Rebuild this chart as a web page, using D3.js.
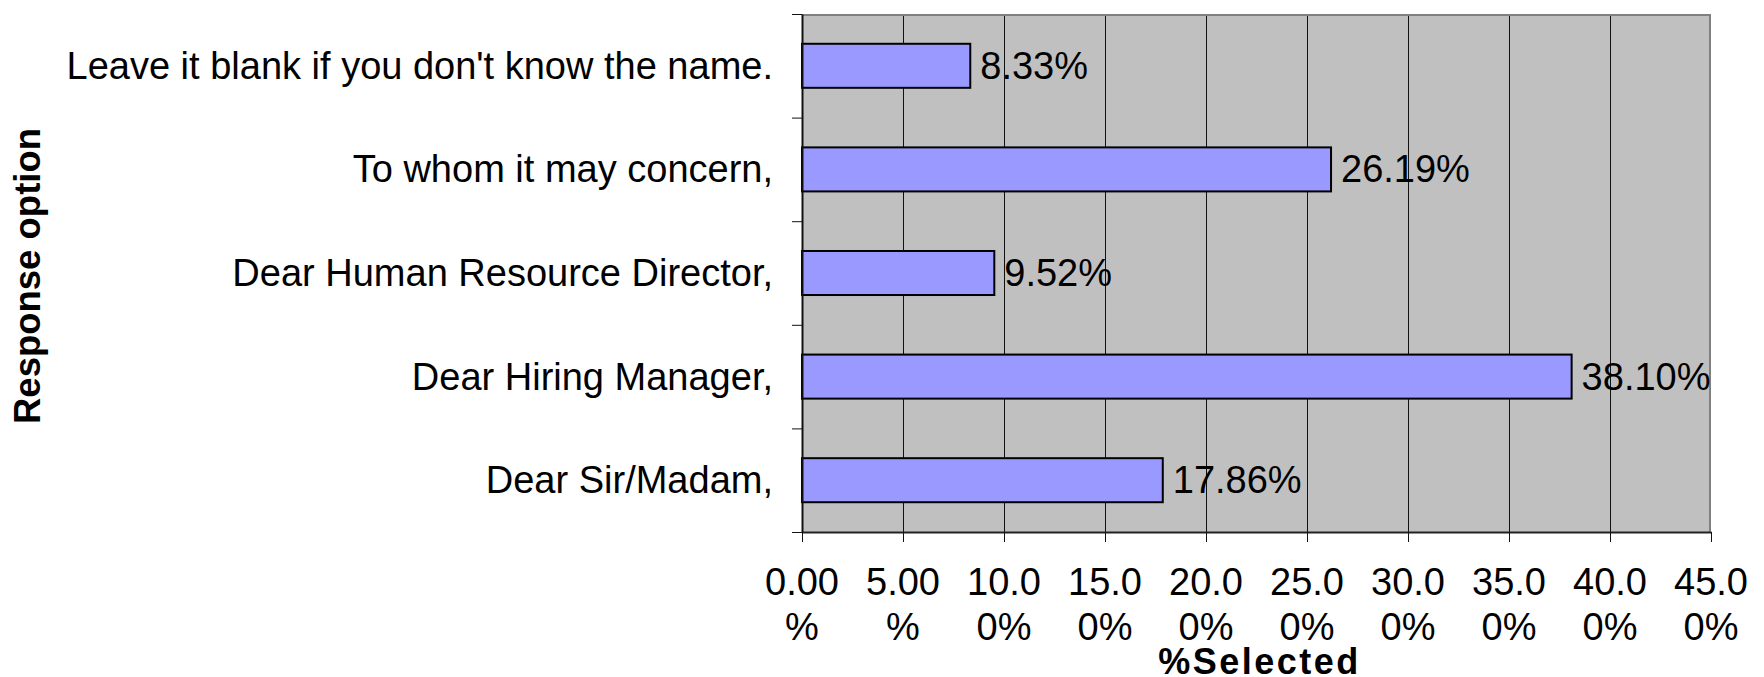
<!DOCTYPE html>
<html>
<head>
<meta charset="utf-8">
<script src="https://cdnjs.cloudflare.com/ajax/libs/d3/7.8.5/d3.min.js"></script>
<style>
  body { margin: 0; background: #fff; }
  svg { display: block; font-family: "Liberation Sans", Arial, sans-serif; }
</style>
</head>
<body>
<div id="chart"></div>
<script>
// response options, top to bottom
var categories = [
  "Leave it blank if you don't know the name.",
  "To whom it may concern,",
  "Dear Human Resource Director,",
  "Dear Hiring Manager,",
  "Dear Sir/Madam,"
];
var percentSelected = [8.33, 26.19, 9.52, 38.10, 17.86];
var tickValues = [0, 5, 10, 15, 20, 25, 30, 35, 40, 45];
// excel wraps the long tick labels onto two lines
var tickLabels = [
  ["0.00", "%"], ["5.00", "%"], ["10.0", "0%"], ["15.0", "0%"], ["20.0", "0%"],
  ["25.0", "0%"], ["30.0", "0%"], ["35.0", "0%"], ["40.0", "0%"], ["45.0", "0%"]
];

var W = 1764, H = 677;
// note: "top" is taken by window.top, so use plot* names
var plotLeft = 802, plotRight = 1711, plotTop = 14, plotBottom = 532;
var fontSize = 38;

var svg = d3.select("#chart").append("svg")
  .attr("width", W)
  .attr("height", H);

var x = d3.scaleLinear().domain([0, 45]).range([plotLeft, plotRight]);
var y = d3.scaleBand().domain(categories).range([plotTop, plotBottom])
  .paddingInner(0.575).paddingOuter(0.2875);

// plot background
svg.append("rect")
  .attr("x", plotLeft).attr("y", plotTop)
  .attr("width", plotRight - plotLeft).attr("height", plotBottom - plotTop)
  .attr("fill", "#c0c0c0");

// vertical gridlines
svg.append("g").selectAll("line")
  .data(tickValues.slice(1, -1))
  .enter().append("line")
  .attr("x1", function(d) { return Math.round(x(d)) + 0.5; })
  .attr("x2", function(d) { return Math.round(x(d)) + 0.5; })
  .attr("y1", plotTop).attr("y2", plotBottom)
  .attr("stroke", "#111").attr("stroke-width", 1);

// gray frame on top and right
svg.append("path")
  .attr("d", "M" + plotLeft + "," + (plotTop + 1) + "H" + (plotRight - 1) + "V" + plotBottom)
  .attr("fill", "none").attr("stroke", "#808080").attr("stroke-width", 2);

// bars
svg.append("g").selectAll("rect")
  .data(percentSelected)
  .enter().append("rect")
  .attr("x", x(0))
  .attr("y", function(d, i) { return y(categories[i]); })
  .attr("width", function(d) { return x(d) - x(0); })
  .attr("height", y.bandwidth())
  .attr("fill", "#9999ff")
  .attr("stroke", "#000")
  .attr("stroke-width", 2);

// value labels
svg.append("g").selectAll("text")
  .data(percentSelected)
  .enter().append("text")
  .attr("x", function(d) { return x(d) + 10; })
  .attr("y", function(d, i) { return y(categories[i]) + y.bandwidth() / 2 + 13; })
  .attr("font-size", fontSize)
  .attr("fill", "#000")
  .text(function(d) { return d.toFixed(2) + "%"; });

// x axis
var xAxis = d3.axisBottom(x)
  .tickValues(tickValues)
  .tickSize(10)
  .tickSizeOuter(0)
  .tickFormat("");
var gx = svg.append("g")
  .attr("transform", "translate(0," + plotBottom + ")")
  .call(xAxis);
gx.select(".domain").attr("stroke", "#222").attr("stroke-width", 2);
gx.selectAll(".tick line").attr("stroke", "#111");

var tl = svg.append("g").selectAll("text")
  .data(tickValues)
  .enter().append("text")
  .attr("x", function(d) { return x(d); })
  .attr("y", 595)
  .attr("text-anchor", "middle")
  .attr("font-size", fontSize)
  .attr("fill", "#000");
tl.append("tspan").attr("x", function(d) { return x(d); })
  .text(function(d, i) { return tickLabels[i][0]; });
tl.append("tspan").attr("x", function(d) { return x(d); }).attr("dy", 45)
  .text(function(d, i) { return tickLabels[i][1]; });

// y axis: ticks sit on the band edges
var edges = d3.range(categories.length + 1).map(function(i) {
  return plotTop + i * y.step();
});
var yEdge = d3.scaleLinear().domain([plotTop, plotBottom]).range([plotTop, plotBottom]);
var gy = svg.append("g")
  .attr("transform", "translate(" + plotLeft + ",0)")
  .call(d3.axisLeft(yEdge).tickValues(edges).tickSize(10).tickSizeOuter(0).tickFormat(""));
gy.select(".domain").attr("stroke", "#111").attr("stroke-width", 2);
gy.selectAll(".tick line").attr("stroke", "#111");

// category labels
svg.append("g").selectAll("text")
  .data(categories)
  .enter().append("text")
  .attr("x", 773)
  .attr("y", function(d) { return y(d) + y.bandwidth() / 2 + 13; })
  .attr("text-anchor", "end")
  .attr("font-size", fontSize)
  .attr("fill", "#000")
  .text(function(d) { return d; });

// axis titles
svg.append("text")
  .attr("x", (plotLeft + plotRight) / 2 + 3)
  .attr("y", 674)
  .attr("text-anchor", "middle")
  .attr("font-size", 36)
  .attr("font-weight", "bold")
  .attr("letter-spacing", 2.5)
  .text("%Selected");

svg.append("text")
  .attr("transform", "translate(40,276) rotate(-90)")
  .attr("text-anchor", "middle")
  .attr("font-size", 36.5)
  .attr("font-weight", "bold")
  .text("Response option");
</script>
</body>
</html>
